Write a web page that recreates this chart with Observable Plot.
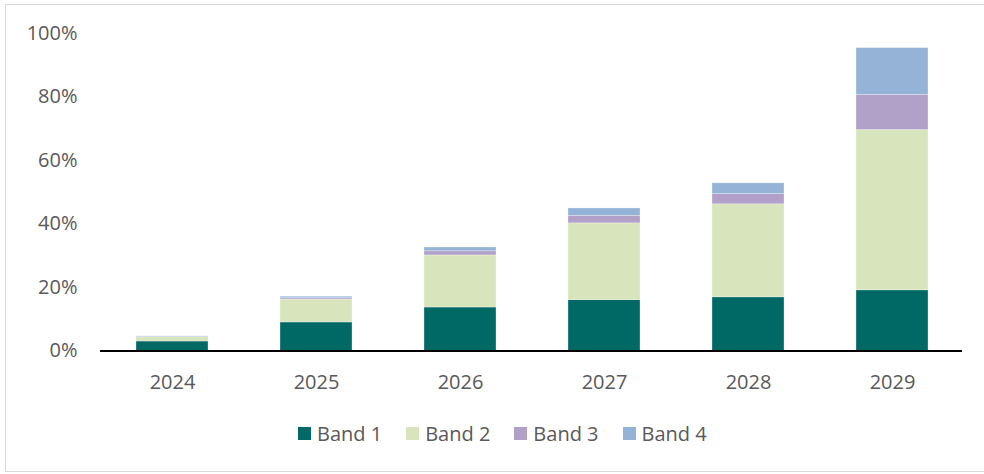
<!DOCTYPE html>
<html>
<head>
<meta charset="utf-8">
<script src="https://cdn.jsdelivr.net/npm/d3@7"></script>
<script src="https://cdn.jsdelivr.net/npm/@observablehq/plot@0.6"></script>
<style>
  html, body { margin: 0; padding: 0; background: #fff; overflow: hidden; }
  #wrap { position: relative; width: 984px; height: 474px; overflow: hidden; font-family: "Open Sans", sans-serif; }
  #frame { position: absolute; left: 5px; top: 4px; width: 1000px; height: 468px; border: 1px solid #d9d9d9; border-right: none; box-sizing: border-box; }
  #chart { position: absolute; left: 0; top: 0; }
  #legend { position: absolute; left: 298px; top: 420px; display: flex; align-items: center; font-size: 20px; color: #595959; white-space: nowrap; }
  .item { display: flex; align-items: center; margin-right: 24px; }
  .sw { width: 13px; height: 13px; margin-right: 6px; }
</style>
</head>
<body>
<div id="wrap">
  <div id="frame"></div>
  <div id="chart"></div>
  <div id="legend"></div>
</div>
<script>
const years = ["2024", "2025", "2026", "2027", "2028", "2029"];
const bands = ["Band 1", "Band 2", "Band 3", "Band 4"];
const band1 = [0.030, 0.090, 0.137, 0.160, 0.169, 0.191];
const band2 = [0.013, 0.072, 0.164, 0.242, 0.293, 0.505];
const band3 = [0.001, 0.004, 0.013, 0.023, 0.032, 0.110];
const band4 = [0.002, 0.005, 0.012, 0.024, 0.034, 0.148];
const colors = ["#006966", "#d8e4bc", "#b1a0c7", "#95b3d7"];
const yTicks = [0, 0.2, 0.4, 0.6, 0.8, 1.0];

const series = [band1, band2, band3, band4];
const data = [];
years.forEach((y, i) => {
  bands.forEach((b, j) => data.push({year: y, band: b, value: series[j][i]}));
});

const plot = Plot.plot({
  width: 984,
  height: 405,
  marginTop: 33,
  marginBottom: 54.5,
  marginLeft: 100,
  marginRight: 22,
  style: {fontFamily: "'Open Sans', sans-serif", fontSize: "20px", color: "#595959", background: "transparent"},
  x: {domain: years, range: [100, 964], paddingInner: 0.5, paddingOuter: 0.25, label: null},
  y: {domain: [0, 1], label: null},
  color: {domain: bands, range: colors},
  marks: [
    Plot.axisX({tickSize: 0, tickPadding: 24, fontSize: 20, fill: "#595959"}),
    Plot.axisY({ticks: yTicks, tickFormat: d3.format(".0%"), tickSize: 0, tickPadding: 23, fontSize: 20, fill: "#595959"}),
    Plot.barY(data, Plot.stackY({order: bands, x: "year", y: "value", fill: "band", stroke: "#ffffff", strokeOpacity: 0.5, strokeWidth: 0.6})),
    Plot.ruleY([0], {stroke: "#000", strokeWidth: 2.2})
  ]
});
document.getElementById("chart").appendChild(plot);

const legend = document.getElementById("legend");
bands.forEach((b, i) => {
  const it = document.createElement("div");
  it.className = "item";
  const sw = document.createElement("div");
  sw.className = "sw";
  sw.style.background = colors[i];
  const t = document.createElement("span");
  t.textContent = b;
  it.appendChild(sw);
  it.appendChild(t);
  legend.appendChild(it);
});
</script>
</body>
</html>
